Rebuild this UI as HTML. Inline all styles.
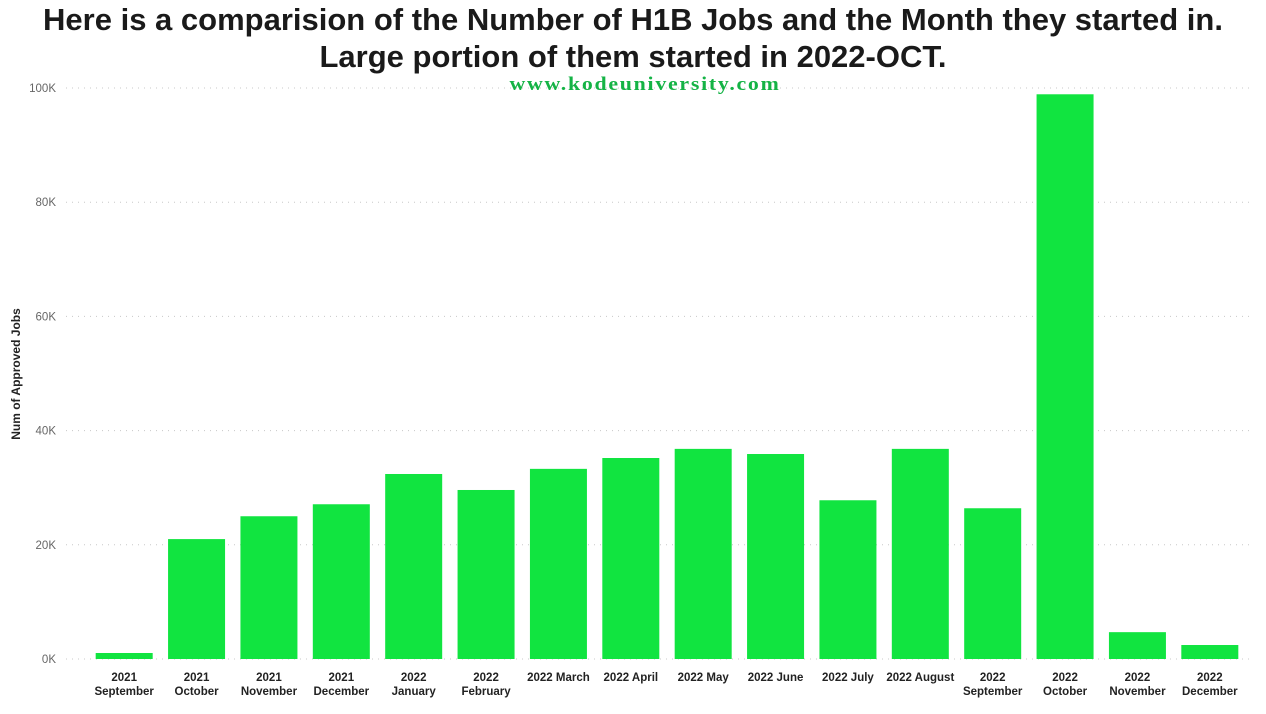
<!DOCTYPE html>
<html><head><meta charset="utf-8"><style>
body{margin:0;width:1266px;height:714px;background:#fff;overflow:hidden;font-family:"Liberation Sans",sans-serif}
#title{position:absolute;left:0;top:1px;width:1266px;text-align:center;font-weight:bold;font-size:31px;line-height:37px;color:#1a1a1a}
#wm{position:absolute;left:645px;top:74px;transform:translateX(-50%) scaleX(1.15);white-space:nowrap;font-family:"Liberation Serif",serif;font-weight:bold;font-size:19px;letter-spacing:1.5px;color:#14b345}
svg{position:absolute;left:0;top:0}
</style></head><body>
<div id="title">Here is a comparision of the Number of H1B Jobs and the Month they started in.<br>Large portion of them started in 2022-OCT.</div>
<svg id="chart" width="1266" height="714"></svg>
<div id="wm">www.kodeuniversity.com</div>
<script>
const categories=[["2021","September"],["2021","October"],["2021","November"],["2021","December"],["2022","January"],["2022","February"],["2022 March"],["2022 April"],["2022 May"],["2022 June"],["2022 July"],["2022 August"],["2022","September"],["2022","October"],["2022","November"],["2022","December"]];
const values=[1050,21000,25000,27100,32400,29600,33300,35200,36800,35900,27800,36800,26400,98900,4700,2450];
const ticks=[0,20000,40000,60000,80000,100000];
const tickLabels=["0K","20K","40K","60K","80K","100K"];
const NS="http://www.w3.org/2000/svg";
const svg=document.getElementById('chart');
const x0=88,x1=1246,y0=659,y1=88;
const band=(x1-x0)/categories.length;
const y=v=>y0-(v/100000)*(y0-y1);
const xc=i=>x0+band*(i+0.5);
function mk(t,a){const e=document.createElementNS(NS,t);for(const k in a)e.setAttribute(k,a[k]);svg.appendChild(e);return e;}
ticks.forEach((t,i)=>{
 const g=mk('line',{x1:66,x2:1250,y1:y(t),y2:y(t),stroke:'#c8c8c8','stroke-dasharray':'1 5'});
 
 
 const l=mk('text',{x:56,y:y(t)+4,'text-anchor':'end','font-size':11.5,fill:'#666'});
 l.textContent=tickLabels[i];
 
 
});
values.forEach((v,i)=>{
 const b=mk('rect',{x:xc(i)-28.5,y:y(v),width:57,height:y0-y(v),fill:'#11e440'});
 
 
 const c=categories[i];
 const t=mk('text',{x:xc(i),y:681,'text-anchor':'middle','font-size':11.5,'font-weight':'bold',fill:'#222'});
 
 
 c.forEach((s,j)=>{const ts=document.createElementNS(NS,'tspan');ts.setAttribute('x',xc(i));ts.setAttribute('dy',j?14:0);ts.textContent=s;t.appendChild(ts);});
});
const yt=mk('text',{x:0,y:0,transform:'translate(20,374) rotate(-90)','text-anchor':'middle','font-size':12,'font-weight':'bold',fill:'#222'});
yt.textContent='Num of Approved Jobs';


</script>
</body></html>
